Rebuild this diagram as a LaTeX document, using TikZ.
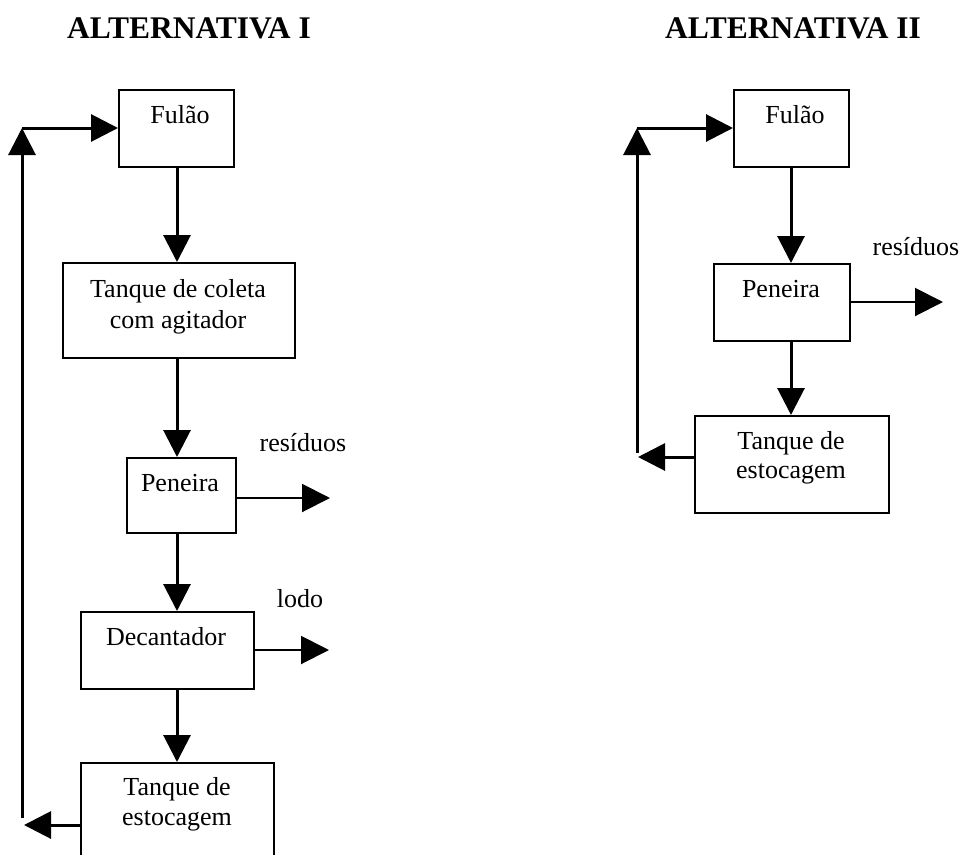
\documentclass[tikz,border=0pt]{standalone}
\usepackage{fontspec}
\setmainfont{Liberation Serif}
\usetikzlibrary{arrows.meta}
\begin{document}
\begin{tikzpicture}[x=1pt,y=-1pt,
  box/.style={draw, line width=1.6pt, inner sep=0pt, anchor=north west},
  lbl/.style={anchor=base, inner sep=0pt, font=\fontsize{26}{31}\selectfont},
  title/.style={anchor=base, inner sep=0pt, font=\fontsize{31.5}{37}\selectfont\bfseries},
  flow/.style={line width=3pt, -{Triangle[length=27pt,width=27pt]}},
  outflow/.style={line width=2pt, -{Triangle[length=28pt,width=28pt]}}]
\useasboundingbox (0,0) rectangle (961,854);
\clip (0,0) rectangle (961,854);

% headings
\node[title] (hA) at (189,38) {ALTERNATIVA I};
\node[title] (hB) at (793,38) {ALTERNATIVA II};

% ---- Alternativa I ----
\node[box, minimum width=115pt, minimum height=77pt] (f1) at (118,89) {};
\node[lbl] (f1t) at (180,123) {Fulão};

\node[box, minimum width=232pt, minimum height=95pt] (c1) at (62,262) {};
\node[lbl] (c1a) at (178,297) {Tanque de coleta};
\node[lbl] (c1b) at (178,328) {com agitador};

\node[box, minimum width=109pt, minimum height=75pt] (p1) at (126,457) {};
\node[lbl] (p1t) at (180,491) {Peneira};
\node[lbl] (r1) at (303,451) {resíduos};

\node[box, minimum width=173pt, minimum height=77pt] (d1) at (80,611) {};
\node[lbl] (d1t) at (166,645) {Decantador};
\node[lbl] (l1) at (300,607) {lodo};

\node[box, minimum width=193pt, minimum height=120pt] (t1) at (80,762) {};
\node[lbl] (t1a) at (177,795) {Tanque de};
\node[lbl] (t1b) at (177,825) {estocagem};

\coordinate (axL) at (177,0);
\draw[flow] (f1.south -| axL) -- (c1.north -| axL);
\draw[flow] (c1.south -| axL) -- (p1.north -| axL);
\draw[flow] (p1.south -| axL) -- (d1.north -| axL);
\draw[flow] (d1.south -| axL) -- (t1.north -| axL);

\coordinate (resL) at (330,498);
\draw[outflow] (resL -| p1.east) -- (resL);
\coordinate (lodL) at (329,650);
\draw[outflow] (lodL -| d1.east) -- (lodL);

\coordinate (retL) at (24,825);
\draw[flow] (retL -| t1.west) -- (retL);
\coordinate (upL) at (22,818);
\coordinate (topL) at (22,128);
\draw[flow] (upL) -- (topL);
\draw[flow] (topL) -- (topL -| f1.west);

% ---- Alternativa II ----
\node[box, minimum width=115pt, minimum height=77pt] (f2) at (733,89) {};
\node[lbl] (f2t) at (795,123) {Fulão};

\node[box, minimum width=136pt, minimum height=77pt] (p2) at (713,263) {};
\node[lbl] (p2t) at (781,297) {Peneira};
\node[lbl] (r2) at (916,255) {resíduos};

\node[box, minimum width=194pt, minimum height=97pt] (t2) at (694,415) {};
\node[lbl] (t2a) at (791,449) {Tanque de};
\node[lbl] (t2b) at (791,478) {estocagem};

\coordinate (axR) at (791,0);
\draw[flow] (f2.south -| axR) -- (p2.north -| axR);
\draw[flow] (p2.south -| axR) -- (t2.north -| axR);

\coordinate (resR) at (943,302);
\draw[outflow] (resR -| p2.east) -- (resR);

\coordinate (retR) at (638,457);
\draw[flow] (retR -| t2.west) -- (retR);
\coordinate (upR) at (637,453);
\coordinate (topR) at (637,128);
\draw[flow] (upR) -- (topR);
\draw[flow] (topR) -- (topR -| f2.west);
\end{tikzpicture}
\end{document}
